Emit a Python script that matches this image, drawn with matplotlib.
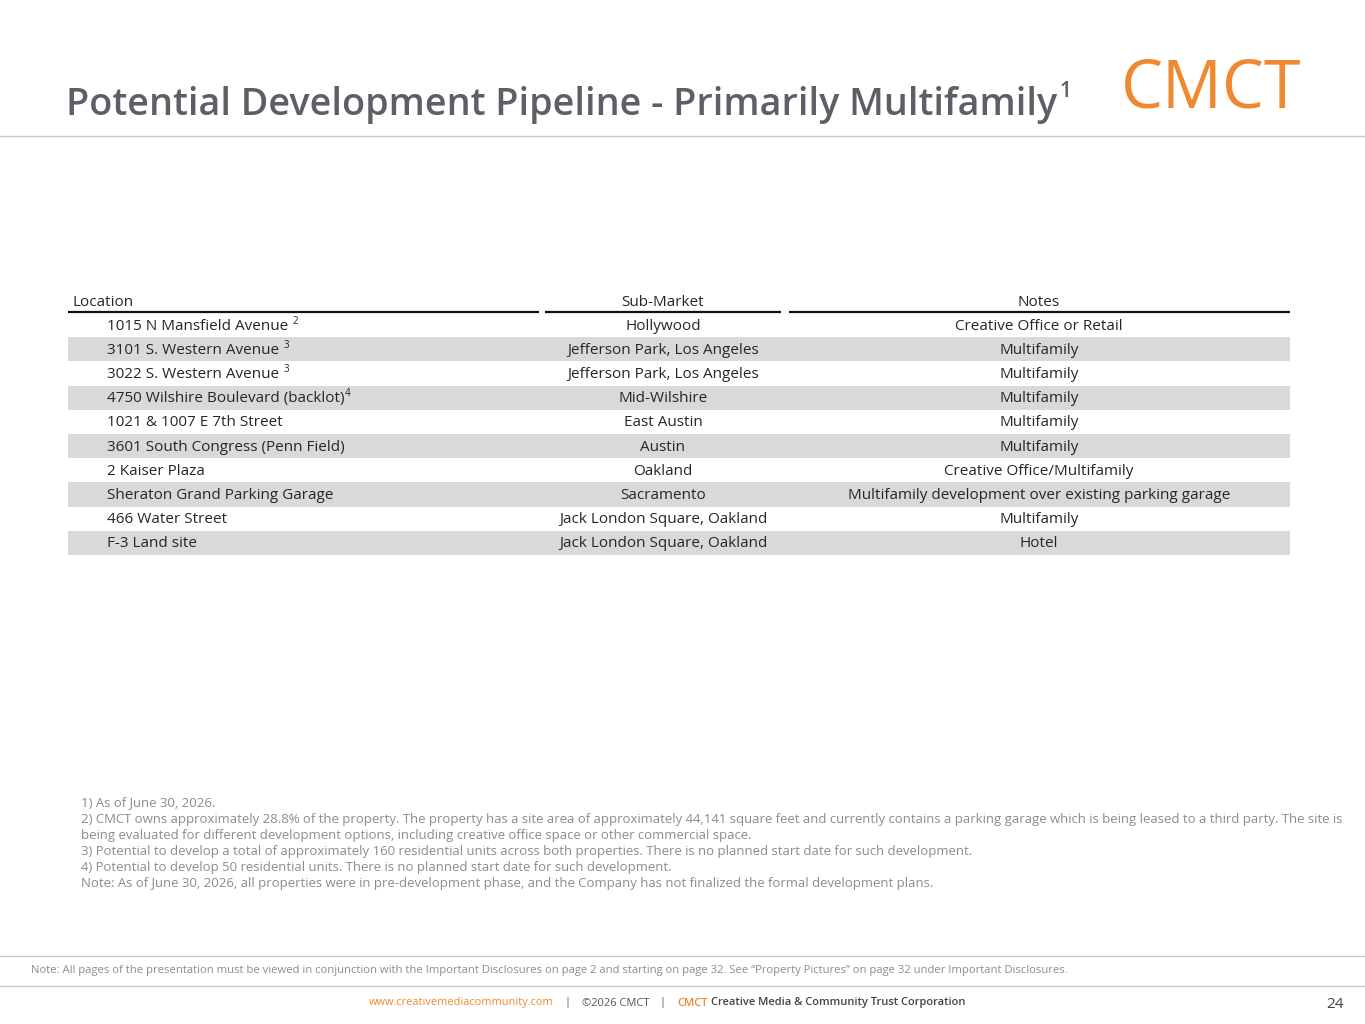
import matplotlib
matplotlib.use("Agg")
import matplotlib.pyplot as plt
from matplotlib.patches import Rectangle

plt.rcParams['font.family'] = ['Open Sans', 'DejaVu Sans']

title = "Potential Development Pipeline - Primarily Multifamily"
title_sup = "1"
headers = ["Location", "Sub-Market", "Notes"]
locations = ["1015 N Mansfield Avenue", "3101 S. Western Avenue", "3022 S. Western Avenue",
             "4750 Wilshire Boulevard (backlot)", "1021 & 1007 E 7th Street",
             "3601 South Congress (Penn Field)", "2 Kaiser Plaza", "Sheraton Grand Parking Garage",
             "466 Water Street", "F-3 Land site"]
location_sups = ["2", "3", "3", "4", "", "", "", "", "", ""]
location_sup_space = [True, True, True, False, False, False, False, False, False, False]
submarkets = ["Hollywood", "Jefferson Park, Los Angeles", "Jefferson Park, Los Angeles",
              "Mid-Wilshire", "East Austin", "Austin", "Oakland", "Sacramento",
              "Jack London Square, Oakland", "Jack London Square, Oakland"]
notes = ["Creative Office or Retail", "Multifamily", "Multifamily", "Multifamily",
         "Multifamily", "Multifamily", "Creative Office/Multifamily",
         "Multifamily development over existing parking garage", "Multifamily", "Hotel"]
footnotes = [
    "1) As of June 30, 2026.",
    "2) CMCT owns approximately 28.8% of the property. The property has a site area of approximately 44,141 square feet and currently contains a parking garage which is being leased to a third party. The site is",
    "being evaluated for different development options, including creative office space or other commercial space.",
    "3) Potential to develop a total of approximately 160 residential units across both properties. There is no planned start date for such development.",
    "4) Potential to develop 50 residential units. There is no planned start date for such development.",
    "Note: As of June 30, 2026, all properties were in pre-development phase, and the Company has not finalized the formal development plans.",
]
disclaimer = ("Note: All pages of the presentation must be viewed in conjunction with the Important Disclosures on page 2 "
              "and starting on page 32. See \u201cProperty Pictures\u201d on page 32 under Important Disclosures.")
footer_url = "www.creativemediacommunity.com"
footer_copy = "\u00a92026 CMCT"
footer_brand = "CMCT"
footer_company = "Creative Media & Community Trust Corporation"
page_number = "24"
logo = "CMCT"

ORANGE = "#F0882F"
TITLE_GRAY = "#5E5E66"
TEXT = "#262626"
FOOT_GRAY = "#8C8C8C"
LINE_GRAY = "#C8C8C8"
SHADE = "#D9D9D9"

W, H = 1365, 1024
fig = plt.figure(figsize=(W / 100, H / 100), dpi=100)
ax = fig.add_axes([0, 0, 1, 1])
ax.set_xlim(0, W)
ax.set_ylim(H, 0)
ax.axis("off")

fig.canvas.draw()
r = fig.canvas.get_renderer()

# Title + logo
t = ax.text(66, 115, title, fontsize=27.2, color=TITLE_GRAY, fontweight="semibold", va="baseline", ha="left")
bb = t.get_window_extent(r)
ax.text(bb.x1 + 2, 97, title_sup, fontsize=15, color=TITLE_GRAY, fontweight="semibold", va="baseline", ha="left")
ax.text(1211, 108, logo, fontsize=48, color=ORANGE, va="baseline", ha="center")
ax.plot([0, W], [136, 136], color=LINE_GRAY, lw=1)

# Table
row_h = 24.2
y0 = 312
col_x = [(68, 539), (545, 781), (789, 1290)]
ax.text(73, 302, headers[0], fontsize=11, color=TEXT, va="center", ha="left")
ax.text(663, 302, headers[1], fontsize=11, color=TEXT, va="center", ha="center")
ax.text(1039, 302, headers[2], fontsize=11, color=TEXT, va="center", ha="center")
for a, b in col_x:
    ax.plot([a, b], [y0, y0], color="#111111", lw=1.6, solid_capstyle="butt")

for i, (loc, sup, sp, sub, note) in enumerate(zip(locations, location_sups, location_sup_space, submarkets, notes)):
    top = y0 + 1 + i * row_h
    yc = top + row_h / 2 + 1
    if i % 2 == 1:
        ax.add_patch(Rectangle((68, top), 1290 - 68, row_h, facecolor=SHADE, edgecolor="none"))
    lt = ax.text(107, yc, loc, fontsize=11, color=TEXT, va="center", ha="left")
    if sup:
        bbl = lt.get_window_extent(r)
        ax.text(bbl.x1 + (4 if sp else 0), yc - 5, sup, fontsize=7, color=TEXT, va="center", ha="left")
    ax.text(663, yc, sub, fontsize=11, color=TEXT, va="center", ha="center")
    ax.text(1039, yc, note, fontsize=11, color=TEXT, va="center", ha="center")

# Footnotes
for j, line in enumerate(footnotes):
    ax.text(81, 803 + j * 16, line, fontsize=9.43, color=FOOT_GRAY, va="center", ha="left")

# Footer
ax.plot([0, W], [956, 956], color=LINE_GRAY, lw=1)
ax.plot([0, W], [986, 986], color=LINE_GRAY, lw=1)
ax.text(31, 970, disclaimer, fontsize=8.1, color=FOOT_GRAY, va="center", ha="left")
ax.text(369, 1003, footer_url, fontsize=7.9, color=ORANGE, va="center", ha="left")
ax.text(567, 1003, "|", fontsize=8, color="#555555", va="center", ha="center")
ax.text(582, 1003, footer_copy, fontsize=8, color="#555555", va="center", ha="left")
ax.text(662, 1003, "|", fontsize=8, color="#555555", va="center", ha="center")
ax.text(677, 1003, footer_brand, fontsize=8, color=ORANGE, va="center", ha="left", fontweight="semibold")
ax.text(711, 1003, footer_company, fontsize=8, color="#444444", va="center", ha="left", fontweight="semibold")
ax.text(1344, 1004, page_number, fontsize=11, color="#444444", va="center", ha="right")

fig.savefig("out.png", dpi=100)
